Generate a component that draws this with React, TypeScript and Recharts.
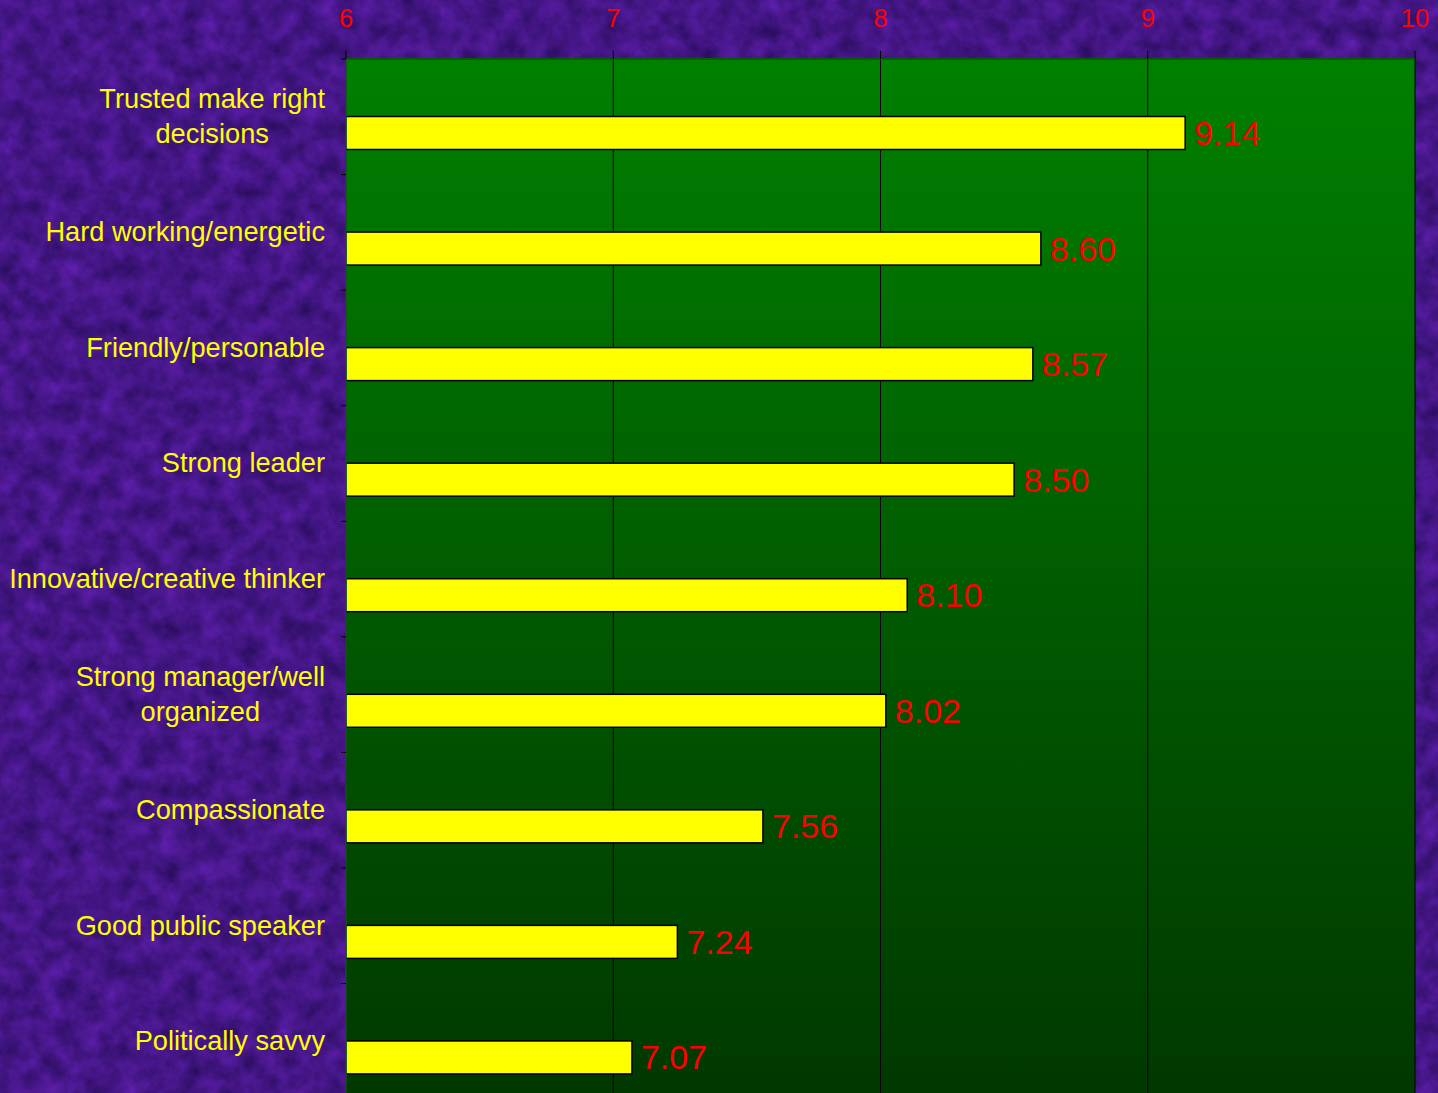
import { BarChart, Bar, XAxis, YAxis, CartesianGrid, LabelList } from 'recharts';

const traits = [
  'Trusted make right\ndecisions',
  'Hard working/energetic',
  'Friendly/personable',
  'Strong leader',
  'Innovative/creative thinker',
  'Strong manager/well\norganized',
  'Compassionate',
  'Good public speaker',
  'Politically savvy',
];
const scores = [9.14, 8.6, 8.57, 8.5, 8.1, 8.02, 7.56, 7.24, 7.07];
const xTicks = [6, 7, 8, 9, 10];

const data = traits.map((t, i) => ({ trait: t, score: scores[i] }));

const FONT = '"Liberation Sans", Arial, sans-serif';
const BAND = 115.5;
const LABEL_SIZE = 27.2;

function textWidth(s: string, size: number) {
  const c = document.createElement('canvas').getContext('2d');
  if (!c) return s.length * size * 0.5;
  c.font = `${size}px ${FONT}`;
  return c.measureText(s).width;
}

function TraitTick(props: any) {
  const { y, payload } = props;
  const lines = String(payload.value).split('\n');
  const right = 325;
  const tick = (
    <line x1={341} x2={346} y1={y - BAND / 2} y2={y - BAND / 2} stroke="#000" />
  );
  if (lines.length === 1) {
    return (
      <g>
        {tick}
        <text x={right} y={y + 9} textAnchor="end" fill="#ffff00" fontSize={LABEL_SIZE} fontFamily={FONT}>
          {lines[0]}
        </text>
      </g>
    );
  }
  const w = Math.max(...lines.map((l) => textWidth(l, LABEL_SIZE)));
  const cx = right - w / 2;
  return (
    <g>
      {tick}
      {lines.map((l, i) => (
        <text key={i} x={cx} y={y + 9 + (i - 0.5) * 35} textAnchor="middle" fill="#ffff00" fontSize={LABEL_SIZE} fontFamily={FONT}>
          {l}
        </text>
      ))}
    </g>
  );
}

function LowerBar(props: any) {
  const { x, y, width, height } = props;
  return (
    <rect x={x} y={y + height / 2} width={width} height={height} fill="#ffff00" stroke="#000" strokeWidth={1.5} />
  );
}

function ValueLabel(props: any) {
  const { x, y, width, height, value } = props;
  return (
    <text x={x + width + 9} y={y + height + 12} fill="#ff0000" fontSize={34} fontFamily={FONT}>
      {Number(value).toFixed(2)}
    </text>
  );
}

function TopTick(props: any) {
  const { x, payload } = props;
  return (
    <text x={x} y={27} textAnchor="middle" fill="#ff0000" fontSize={25.5} fontFamily={FONT}>
      {payload.value}
    </text>
  );
}

export default function App() {
  return (
    <div style={{ position: 'fixed', left: 0, top: 0, width: 1438, height: 1093, overflow: 'hidden' }}>
      <svg width={1438} height={1093} style={{ position: 'absolute', left: 0, top: 0 }}>
        <defs>
          <filter id="felt" x="0" y="0" width="100%" height="100%" colorInterpolationFilters="sRGB">
            <feTurbulence type="fractalNoise" baseFrequency="0.05" numOctaves={4} seed={7} />
            <feColorMatrix
              type="matrix"
              values="0.3 0 0 0 0.12  0.1 0 0 0 0.04  0.45 0 0 0 0.3  0 0 0 0 1"
            />
          </filter>
          <linearGradient id="plotGreen" x1="0" y1="0" x2="0" y2="1">
            <stop offset="0%" stopColor="#008000" />
            <stop offset="100%" stopColor="#003800" />
          </linearGradient>
        </defs>
        <rect width={1438} height={1093} fill="#46148a" />
        <rect width={1438} height={1093} filter="url(#felt)" opacity={0.85} />
      </svg>
      <div style={{ position: 'absolute', left: 0, top: 0 }}>
        <BarChart
          width={1438}
          height={1099}
          data={data}
          layout="vertical"
          margin={{ top: 0, right: 23, bottom: 0, left: 0 }}
          barCategoryGap={0}
        >
          <CartesianGrid
            horizontal={false}
            vertical
            stroke="#000"
            strokeOpacity={1}
            fill="url(#plotGreen)"
            fillOpacity={1}
          />
          <XAxis
            type="number"
            orientation="top"
            domain={[6, 10]}
            ticks={xTicks}
            height={59}
            allowDataOverflow
            tick={<TopTick />}
            tickSize={8}
            tickLine={{ stroke: '#000' }}
            axisLine={{ stroke: '#0a5a0a', strokeWidth: 2 }}
          />
          <YAxis
            type="category"
            dataKey="trait"
            width={346}
            tick={<TraitTick />}
            tickLine={false}
            tickSize={0}
            axisLine={{ stroke: '#1a7a1a' }}
            interval={0}
          />
          <YAxis
            yAxisId="right"
            type="category"
            dataKey="trait"
            orientation="right"
            width={0}
            tick={false}
            tickLine={false}
            axisLine={{ stroke: '#8a8a8a', strokeWidth: 3 }}
          />
          <Bar dataKey="score" barSize={33} shape={<LowerBar />} isAnimationActive={false}>
            <LabelList dataKey="score" content={<ValueLabel />} />
          </Bar>
        </BarChart>
      </div>
    </div>
  );
}
